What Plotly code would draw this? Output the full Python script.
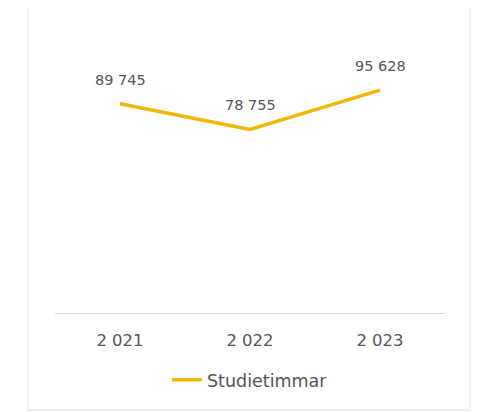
import plotly.graph_objects as go

years = ["2 021", "2 022", "2 023"]
studietimmar = [89745, 78755, 95628]
value_labels = ["89 745", "78 755", "95 628"]
series_name = "Studietimmar"

line_color = "#F2B705"
text_color = "#555555"
font_family = "DejaVu Sans"

fig = go.Figure()
fig.add_trace(go.Scatter(
    x=years, y=studietimmar, mode="lines", name=series_name,
    line=dict(color=line_color, width=3.5),
    hoverinfo="skip",
))

for xv, yv, lab in zip(years, studietimmar, value_labels):
    fig.add_annotation(x=xv, y=yv, text=lab, showarrow=False, yshift=24,
                       font=dict(size=14.5, color=text_color, family=font_family))

fig.add_shape(type="rect", xref="paper", yref="paper",
              x0=-0.069, x1=1.064, y0=-0.355, y1=1.121,
              line=dict(color="#ececec", width=1.5), fillcolor="rgba(0,0,0,0)",
              layer="below")

fig.update_layout(
    width=480, height=412,
    margin=dict(l=47, r=43, t=32, b=107),
    paper_bgcolor="white", plot_bgcolor="white",
    font=dict(family=font_family, size=14, color=text_color),
    showlegend=True,
    legend=dict(orientation="h", x=0.5, xanchor="center", y=-0.245, yanchor="middle",
                font=dict(size=17.5, color=text_color, family=font_family)),
    xaxis=dict(type="category", range=[-0.5, 2.5], showgrid=False, showline=True,
               linecolor="#dcdcdc", linewidth=1, ticks="outside", ticklen=12,
               tickcolor="rgba(0,0,0,0)",
               tickfont=dict(size=16.5, color=text_color, family=font_family),
               zeroline=False),
    yaxis=dict(range=[0, 117100], visible=False, showgrid=False, zeroline=False),
)

fig.write_html("out.html")
